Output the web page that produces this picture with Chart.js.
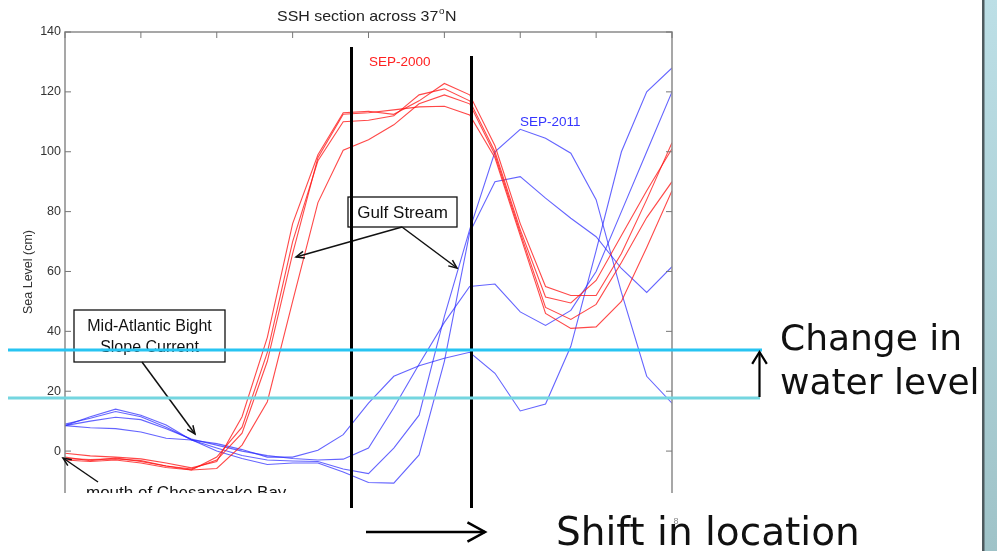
<!DOCTYPE html>
<html>
<head>
<meta charset="utf-8">
<script src="https://cdn.jsdelivr.net/npm/chart.js@4.4.1/dist/chart.umd.min.js"></script>
<style>
  html, body { margin: 0; padding: 0; background: #ffffff; }
  #wrap { position: relative; width: 997px; height: 551px; }
</style>
</head>
<body>
<div id="wrap"><canvas id="c"></canvas></div>
<script>
// ---- data ----
const stations = [0,1,2,3,4,5,6,7,8,9,10,11,12,13,14,15,16,17,18,19,20,21,22,23,24];
const topTicks = [0,3,6,9,12,15,18,21,24];
const yTicks = [0,20,40,60,80,100,120,140];

const sep2000_a = [-0.7,-1.6,-2.0,-2.6,-4.0,-5.6,-3.5,11.5,38,76,99,113,113.5,112.5,117,122.8,119,102,76,55,52,52,66,84,103];
const sep2000_b = [-2.0,-3.2,-2.3,-3.5,-5.0,-6.3,-2.0,8,33,70,97,110,110.5,112,119,121,117,100,74,51.5,49.5,57,72,87,101];
const sep2000_c = [-3.0,-3.5,-3.0,-4.0,-5.5,-6.3,-5.8,2,16.5,50,83,100.5,104,109,116,119,116,99,73,48,44,49,63,78,90];
const sep2000_d = [-2.5,-2.8,-2.6,-3.2,-5.0,-6.0,-3.0,6,30,66,98,112.5,113,114,115,115.2,112.3,98,72,46,41,41.5,50,68,87];

const sep2011_a = [8.5,11.5,14,12,8.7,3.7,1,-1.5,-3,-3.3,-3.5,-6,-7.5,1,12,45,74,100,107.5,104.5,99.5,84,53,25,16];
const sep2011_b = [9,11,13.2,11.5,8,3.8,0,-2.5,-4.5,-4,-4,-7,-10.5,-10.7,-1.3,30,73,90,91.7,84.5,77.8,71.6,61,53,61.6];
const sep2011_c = [8.5,10,11.3,10.5,7.5,4,2,0,-1.5,-2.5,-3,-2.7,1,14.5,29,43,55,55.8,46.5,42,47,60,80,100,120];
const sep2011_d = [8.5,7.8,7.5,6.4,4.3,3.7,2.5,0.5,-2,-2,0.3,5.5,16,25,28.5,31,33,26,13.4,15.7,35,67,100,120,128];

const titleText = "SSH section across 37";
const yLabel = "Sea Level (cm)";
const redLabel = "SEP-2000";
const blueLabel = "SEP-2011";

// ---- build datasets ----
const RED = 'rgba(255,20,20,0.78)';
const BLUE = 'rgba(40,40,255,0.72)';
function pts(arr){ return arr.map((v,i)=>({x: stations[i], y: v})); }
function ds(label, arr, color){
  return { label, data: pts(arr), borderColor: color, borderWidth: 1.1, pointRadius: 0, fill: false, tension: 0 };
}
const datasets = [
  ds('SEP-2000 a', sep2000_a, RED), ds('SEP-2000 b', sep2000_b, RED),
  ds('SEP-2000 c', sep2000_c, RED), ds('SEP-2000 d', sep2000_d, RED),
  ds('SEP-2011 a', sep2011_a, BLUE), ds('SEP-2011 b', sep2011_b, BLUE),
  ds('SEP-2011 c', sep2011_c, BLUE), ds('SEP-2011 d', sep2011_d, BLUE)
];

function line(ctx, x1, y1, x2, y2){ ctx.beginPath(); ctx.moveTo(x1,y1); ctx.lineTo(x2,y2); ctx.stroke(); }
function arrowHead(ctx, x1, y1, x2, y2, len, spread){
  const a = Math.atan2(y2-y1, x2-x1);
  ctx.beginPath();
  ctx.moveTo(x2 - len*Math.cos(a-spread), y2 - len*Math.sin(a-spread));
  ctx.lineTo(x2, y2);
  ctx.lineTo(x2 - len*Math.cos(a+spread), y2 - len*Math.sin(a+spread));
  ctx.stroke();
}
function arrow(ctx, x1,y1,x2,y2,len,spread){ line(ctx,x1,y1,x2,y2); arrowHead(ctx,x1,y1,x2,y2,len,spread); }

const overlay = {
  id: 'overlay',
  beforeDraw(chart){
    const ctx = chart.ctx;
    ctx.save();
    ctx.fillStyle = '#ffffff';
    ctx.fillRect(0,0,chart.width,chart.height);
    const g = ctx.createLinearGradient(0,0,0,chart.height);
    g.addColorStop(0,'#bcdfe6'); g.addColorStop(1,'#9fc3c8');
    ctx.fillStyle = g;
    ctx.fillRect(984,0,13,chart.height);
    ctx.fillStyle = '#4e5a5e';
    ctx.fillRect(982,0,2.5,chart.height);
    ctx.restore();
  },
  afterDatasetsDraw(chart){
    const ctx = chart.ctx;
    const xs = chart.scales.x, ys = chart.scales.y;
    const L = chart.chartArea.left, R = chart.chartArea.right, T = chart.chartArea.top, B = chart.chartArea.bottom;
    ctx.save();
    // frame
    ctx.strokeStyle = '#8a8a8a'; ctx.lineWidth = 1.5;
    ctx.beginPath(); ctx.moveTo(L, B); ctx.lineTo(L, T); ctx.lineTo(R, T); ctx.lineTo(R, B); ctx.stroke();
    // inward ticks
    ctx.lineWidth = 1;
    ctx.strokeStyle = '#777';
    yTicks.forEach(v => { const y = ys.getPixelForValue(v); line(ctx, L, y, L+6, y); line(ctx, R, y, R-6, y); });
    topTicks.forEach(v => { const x = xs.getPixelForValue(v); line(ctx, x, T, x, T+6); });

    // title
    ctx.fillStyle = '#222';
    ctx.textBaseline = 'alphabetic'; ctx.textAlign = 'left';
    ctx.save();
    ctx.translate(277, 21);
    ctx.scale(1.1, 1);
    ctx.font = '14.5px "Liberation Sans", Arial, sans-serif';
    let tx = 0;
    ctx.fillText(titleText, tx, 0);
    tx += ctx.measureText(titleText).width;
    ctx.font = '9px "Liberation Sans", Arial, sans-serif';
    ctx.fillText('o', tx+0.5, -7);
    tx += ctx.measureText('o').width + 1;
    ctx.font = '14.5px "Liberation Sans", Arial, sans-serif';
    ctx.fillText('N', tx, 0);
    ctx.restore();

    // y axis label
    ctx.save();
    ctx.translate(32, 272);
    ctx.rotate(-Math.PI/2);
    ctx.textAlign = 'center';
    ctx.font = '12.5px "Liberation Sans", Arial, sans-serif';
    ctx.fillStyle = '#333';
    ctx.fillText(yLabel, 0, 0);
    ctx.restore();

    // series labels
    ctx.font = '13.5px "Liberation Sans", Arial, sans-serif';
    ctx.fillStyle = '#ff2020';
    ctx.fillText(redLabel, 369, 66);
    ctx.fillStyle = '#3535ff';
    ctx.fillText(blueLabel, 520, 126);

    // Gulf Stream box and arrows
    ctx.fillStyle = '#fff'; ctx.strokeStyle = '#111'; ctx.lineWidth = 1.3;
    ctx.fillRect(348, 197, 109, 30); ctx.strokeRect(348, 197, 109, 30);
    ctx.fillStyle = '#111';
    ctx.font = '17px "Liberation Sans", Arial, sans-serif';
    ctx.textAlign = 'center';
    ctx.fillText('Gulf Stream', 402.5, 218);
    ctx.lineWidth = 1.5;
    arrow(ctx, 402, 227, 296, 257, 9, 0.4);
    arrow(ctx, 402, 227, 457, 268, 9, 0.4);

    // Mid-Atlantic Bight box
    ctx.fillStyle = '#fff'; ctx.lineWidth = 1.3;
    ctx.fillRect(74, 310, 151, 52); ctx.strokeRect(74, 310, 151, 52);
    ctx.fillStyle = '#111';
    ctx.font = '16px "Liberation Sans", Arial, sans-serif';
    ctx.fillText('Mid-Atlantic Bight', 149.5, 331);
    ctx.fillText('Slope Current', 149.5, 352);
    ctx.lineWidth = 1.5;
    arrow(ctx, 142, 362, 195, 434, 9, 0.4);

    // mouth of Chesapeake Bay (cut off at bottom)
    arrow(ctx, 98, 482, 63, 458, 9, 0.4);
    ctx.save();
    ctx.beginPath(); ctx.rect(60, 470, 300, 23); ctx.clip();
    ctx.textAlign = 'left';
    ctx.font = '17px "Liberation Sans", Arial, sans-serif';
    ctx.fillText('mouth of Chesapeake Bay', 86, 498);
    ctx.restore();

    // small x tick label
    ctx.fillStyle = '#888';
    ctx.font = '9px "Liberation Sans", Arial, sans-serif';
    ctx.textAlign = 'center';
    ctx.fillText('8', 676, 524);

    // black vertical lines
    ctx.strokeStyle = '#000'; ctx.lineWidth = 3;
    line(ctx, 351.5, 47, 351.5, 508);
    line(ctx, 471.5, 56, 471.5, 508);

    // cyan horizontal lines
    ctx.lineWidth = 3.2;
    ctx.strokeStyle = '#27c4f2';
    line(ctx, 8, 350, 762, 350);
    ctx.strokeStyle = '#74d6e0';
    line(ctx, 8, 398, 760, 398);

    // up arrow (change in water level)
    ctx.strokeStyle = '#000'; ctx.lineWidth = 2.2;
    arrow(ctx, 759.5, 397, 759.5, 352, 14, 0.55);

    // bottom arrow (shift in location)
    ctx.lineWidth = 2.5;
    arrow(ctx, 366, 532, 485, 532, 20, 0.5);

    // big texts
    ctx.fillStyle = '#111';
    ctx.textAlign = 'left';
    ctx.font = '36px "DejaVu Sans", sans-serif';
    ctx.fillText('Change in', 780, 350);
    ctx.fillText('water level', 780, 394);
    ctx.font = '39px "DejaVu Sans", sans-serif';
    ctx.fillText('Shift in location', 556, 545);
    ctx.restore();
  }
};

new Chart(document.getElementById('c'), {
  type: 'line',
  data: { datasets },
  options: {
    responsive: true,
    maintainAspectRatio: false,
    animation: false,
    events: [],
    layout: { padding: { left: 0, top: 32, right: 325, bottom: 58 } },
    plugins: { legend: { display: false }, tooltip: { enabled: false }, title: { display: false } },
    scales: {
      x: { type: 'linear', min: 0, max: 24, display: false },
      y: {
        type: 'linear', min: -14, max: 140,
        afterFit(scale){ scale.width = 65; },
        afterBuildTicks(scale){ scale.ticks = yTicks.map(v => ({ value: v })); },
        grid: { display: false, drawTicks: false },
        border: { display: false },
        ticks: { padding: 4, color: '#333', font: { family: '"Liberation Sans", Arial, sans-serif', size: 12.5 } }
      }
    }
  },
  plugins: [overlay]
});
</script>
</body>
</html>
